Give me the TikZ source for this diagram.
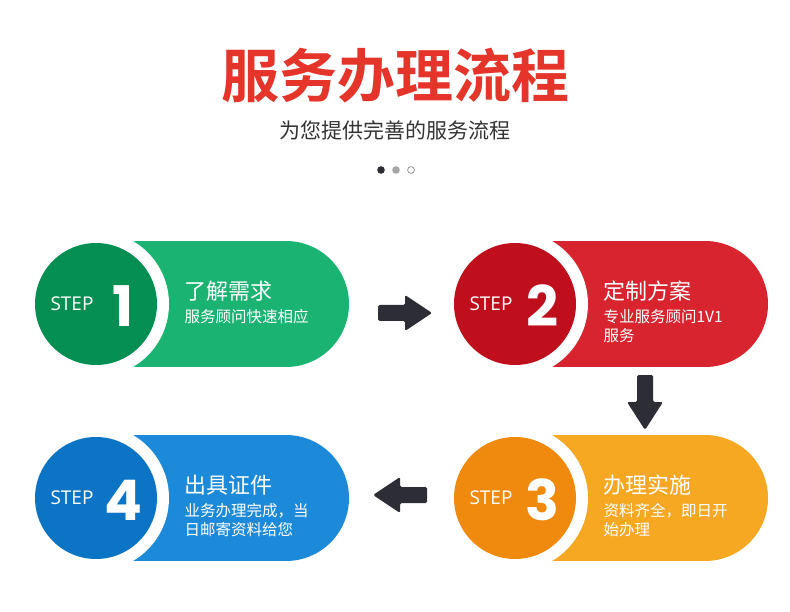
\documentclass[tikz,border=0pt]{standalone}
\usepackage{fontspec}
\setmainfont{Noto Sans CJK SC}
\newfontfamily\cjkbold{Noto Sans CJK SC Bold}
\newfontfamily\digitfont{Poppins Bold}
\newfontfamily\stepfont{Open Sans}
\usetikzlibrary{positioning}
\definecolor{titlered}{HTML}{E53429}
\definecolor{gdark}{HTML}{058F52}\definecolor{glight}{HTML}{1BB371}
\definecolor{rdark}{HTML}{BF0E1C}\definecolor{rlight}{HTML}{D7242F}
\definecolor{odark}{HTML}{F08A0E}\definecolor{olight}{HTML}{F7A823}
\definecolor{bdark}{HTML}{0B74C5}\definecolor{blight}{HTML}{1C8AD8}
\definecolor{arrowgray}{HTML}{2D2D35}
\tikzset{
  stepcircle/.style={circle,minimum size=122pt,inner sep=0pt},
  steptitle/.style={anchor=west,text=white,font=\fontsize{22}{24}\selectfont},
  stepsub/.style={anchor=north west,text=white,align=left,font=\fontsize{15.5}{19}\selectfont},
}
% one step: #1 centre, #2 dark, #3 light, #4 name, #5 digit, #6 title, #7 text
\newcommand\stepitem[7]{
  \fill[#3] ($#1+(20,-63)$) rectangle ($#1+(190,63)$);
  \fill[#3] ($#1+(190,0)$) circle (63);
  \fill[white] #1 circle (73);
  \node[stepcircle,fill=#2] (#4) at #1 {};
  \node[text=white,font=\stepfont\fontsize{19}{20}\selectfont] at ($#1+(-24,0)$) {STEP};
  \node[text=white,font=\digitfont\fontsize{56}{56}\selectfont] at ($#1+(27,2)$) {#5};
  \node[steptitle] (#4t) at ($#1+(85,-13)$) {#6};
  \node[stepsub] (#4s) at ($#1+(85,2)$) {#7};
}
\usetikzlibrary{calc}
\begin{document}
\begin{tikzpicture}[x=1pt,y=-1pt]
\useasboundingbox[fill=white] (0,0) rectangle (790,612);

% heading
\node[text=titlered,font=\cjkbold\fontsize{58}{60}\selectfont] (title) at (395,76) {服务办理流程};
\node[text=black!80,font=\fontsize{21}{23}\selectfont] (subtitle) at (395,130) {为您提供完善的服务流程};
\fill[arrowgray] (381,170) circle (3.8);
\fill[black!35] (396,170) circle (3.8);
\draw[black!40,line width=0.8pt] (411,170) circle (3.4);

% steps
\stepitem{(96,304)}{gdark}{glight}{s1}{1}{了解需求}{服务顾问快速相应}
\stepitem{(515,304)}{rdark}{rlight}{s2}{2}{定制方案}{专业服务顾问1V1\\服务}
\stepitem{(515,498)}{odark}{olight}{s3}{3}{办理实施}{资料齐全，即日开\\始办理}
\stepitem{(96,498)}{bdark}{blight}{s4}{4}{出具证件}{业务办理完成，当\\日邮寄资料给您}

% block arrows
\fill[arrowgray,rounded corners=1.5pt] (378,305) -- (405,305) -- (405,295) -- (432,313) -- (405,331) -- (405,321) -- (378,321) -- cycle;
\fill[arrowgray,rounded corners=1.5pt] (637,375) -- (637,402) -- (627,402) -- (645,430) -- (663,402) -- (653,402) -- (653,375) -- cycle;
\fill[arrowgray,rounded corners=1.5pt] (427,487) -- (400,487) -- (400,477) -- (373,495) -- (400,513) -- (400,503) -- (427,503) -- cycle;
\end{tikzpicture}
\end{document}
